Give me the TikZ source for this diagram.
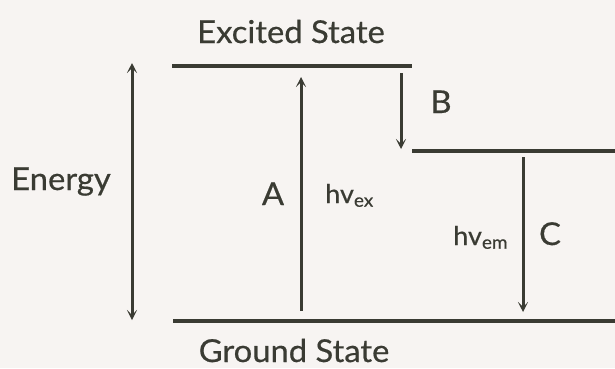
\documentclass[tikz,border=0pt]{standalone}
\usepackage{fontspec}
\setmainfont{Lato}[FakeBold=0.5,FakeStretch=1.04]
\usetikzlibrary{arrows.meta}
\definecolor{bg}{HTML}{F7F4F2}
\definecolor{ink}{HTML}{3A3B33}
\begin{document}
\begin{tikzpicture}[x=1pt,y=-1pt,
  level/.style={draw=ink,line width=3.2pt},
  arrowtip/.style={},
  trans/.style={draw=ink,line width=3pt,-{Stealth[length=10pt,width=10pt,inset=5pt]}},
  lbl/.style={text=ink,anchor=base,inner sep=0pt,font=\fontsize{31.5}{36}\selectfont},
  hvl/.style={text=ink,anchor=base west,inner sep=0pt,font=\fontsize{26}{32}\selectfont}]
\fill[bg] (0,0) rectangle (615,368);
\useasboundingbox (0,0) rectangle (615,368);
% levels
\coordinate (exL) at (172,66);
\coordinate (exR) at (412,66);
\coordinate (midL) at (412,151);
\coordinate (midR) at (615,151);
\coordinate (grL) at (173,321);
\coordinate (grR) at (615,321);
\draw[level] (exL) -- (exR);
\draw[level] (midL) -- (midR);
\draw[level] (grL) -- (grR);
% energy axis
\coordinate (enTop) at (132,63);
\coordinate (enBot) at (132,320);
\draw[draw=ink,line width=3pt,{Stealth[length=10pt,width=10pt,inset=5pt]}-{Stealth[length=10pt,width=10pt,inset=5pt]}] (enBot) -- (enTop);
% transitions
\coordinate (aS) at (301,311);
\coordinate (aE) at (301,77);
\draw[trans] (aS) -- (aE);
\coordinate (bS) at (401,73);
\coordinate (bE) at (401,149);
\draw[trans] (bS) -- (bE);
\coordinate (cS) at (523,157);
\coordinate (cE) at (523,312);
\draw[trans] (cS) -- (cE);
% labels
\node[lbl] (excited) at (291,43) {Excited State};
\node[lbl] (ground) at (294,362) {Ground State};
\node[lbl] (energy) at (61,190) {Energy};
\node[lbl] (la) at (273,205) {A};
\node[lbl] (lb) at (441,113) {B};
\node[lbl] (lc) at (550,245) {C};
\node[hvl] (hvex) at (325,203) {hv\textsubscript{ex}};
\node[hvl] (hvem) at (453,245) {hv\textsubscript{em}};
\end{tikzpicture}
\end{document}
